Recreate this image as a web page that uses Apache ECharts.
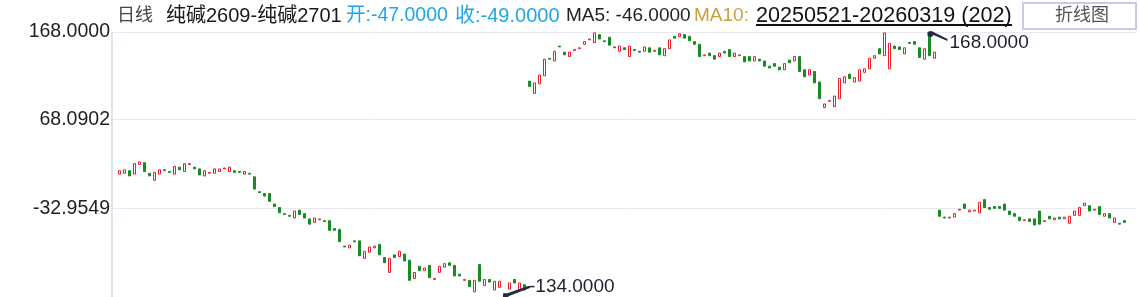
<!DOCTYPE html>
<html>
<head>
<meta charset="utf-8">
<script src="https://cdn.jsdelivr.net/npm/echarts@6/dist/echarts.min.js"></script>
<style>html,body{margin:0;padding:0;background:#fff;}#c{width:1139px;height:297px;}</style>
</head>
<body>
<div id="c"></div>
<script>
// ---- data ----
const opens = [6,7,10,6,17,19,7,-1,6,11,9,6,14,9,17,14,12,4,7,7,9,12,9,10,9,6,7,3,-14,-16,-16,-28,-32,-39,-41,-44,-35,-39,-45,-49,-46,-47,-47,-56,-57,-76,-78,-70,-70,-90,-83,-78,-74,-89,-106,-86,-88,-85,-92,-113,-99,-104,-98,-114,-106,-100,-95,-98,-108,-115,-115,-128,-97,-121,-114,-126,-123,-134,-125,-114,-126,-120,
112,98,109,118,138,135,152,145,140,147,149,154,159,156,165,158,162,151,146,150,140,148,146,146,150,146,150,141,149,163,163,165,163,157,154,141,144,141,140,146,148,140,141,140,140,135,137,135,129,132,128,125,136,135,140,125,119,123,111,82,89,83,92,110,120,111,112,122,126,138,149,141,126,152,151,143,156,157,150,137,168,138,
-35,-43,-44,-43,-35,-28,-37,-36,-38,-23,-32,-31,-31,-28,-36,-39,-43,-47,-45,-45,-36,-48,-42,-46,-43,-45,-50,-41,-41,-30,-30,-35,-31,-42,-39,-49,-50,-47];
const closes = [10,11,4,18,20,9,4,8,11,10,8,15,11,18,18,12,5,10,8,12,12,13,14,8,8,9,6,-11,-15,-19,-25,-31,-38,-40,-42,-36,-40,-44,-51,-44,-45,-48,-58,-58,-71,-77,-75,-71,-87,-82,-77,-76,-86,-95,-90,-89,-82,-93,-115,-106,-104,-101,-112,-113,-99,-96,-98,-110,-110,-114,-122,-115,-116,-114,-117,-116,-116,-130,-118,-118,-118,-126,
106,110,119,137,137,146,151,142,145,148,150,157,160,167,160,157,153,150,152,148,152,147,145,151,145,147,142,149,159,161,166,161,158,154,140,142,141,137,144,144,140,144,142,134,135,140,135,129,127,129,125,132,133,140,123,117,125,110,92,86,90,95,115,117,115,116,125,126,138,141,143,167,155,149,148,150,155,154,139,149,141,145,
-42,-44,-43,-39,-34,-33,-35,-35,-26,-32,-34,-33,-33,-35,-40,-42,-47,-46,-48,-52,-51,-47,-45,-44,-45,-43,-42,-36,-32,-27,-36,-34,-40,-39,-44,-44,-51,-49];
const categories = opens.map((_, i) => String(i + 1));
const yTickValues = [-32.9549, 68.0902, 168];
const yMin = -134, yMax = 168;
const headerTexts = {
  period: '日线', name: '纯碱2609-纯碱2701', open: '开:-47.0000', close: '收:-49.0000',
  ma5: 'MA5: -46.0000', ma10: 'MA10:', range: '20250521-20260319 (202)', button: '折线图'
};

// ---- chart ----
const FONT = "'Liberation Sans','Noto Sans CJK SC',sans-serif";
const UP = '#e5222b', DOWN = '#178c22';
const kData = opens.map((o, i) => {
  const c = closes[i];
  return [o, c, Math.min(o, c), Math.max(o, c)];
});
const chart = echarts.init(document.getElementById('c'), null, {renderer: 'canvas'});
function txt(x, text, color, size) {
  return {type: 'text', x: x, y: 16, style: {text: text, fill: color, font: size + 'px ' + FONT, verticalAlign: 'middle', align: 'left'}};
}
chart.setOption({
  animation: false,
  backgroundColor: '#fff',
  grid: {left: 112, right: 2, top: 32, bottom: 0, containLabel: false},
  xAxis: {
    type: 'category', data: categories, min: -1, max: categories.length + 1,
    boundaryGap: true, show: false
  },
  yAxis: {
    type: 'value', min: yMin, max: yMax, scale: true,
    axisLine: {show: true, lineStyle: {color: '#e2e2ee', width: 2}},
    axisTick: {show: false, customValues: yTickValues},
    axisLabel: {customValues: yTickValues, formatter: v => v.toFixed(4), color: '#1e1e24', fontSize: 19.5, fontFamily: FONT, margin: 2},
    splitLine: {show: true, lineStyle: {color: '#e8e8f1', width: 1}}
  },
  graphic: [
    txt(117, headerTexts.period, '#444', 18),
    txt(166, headerTexts.name, '#1a1a1a', 20),
    txt(346, headerTexts.open, '#1fa6ea', 19.5),
    txt(455, headerTexts.close, '#1fa6ea', 20),
    txt(566, headerTexts.ma5, '#222', 19),
    txt(694, headerTexts.ma10, '#c9a13a', 19),
    txt(756, headerTexts.range, '#111', 21.6),
    {type: 'line', shape: {x1: 756, y1: 25, x2: 1012, y2: 25}, style: {stroke: '#111', lineWidth: 2}},
    {type: 'rect', shape: {x: 1023, y: 3, width: 113, height: 26}, style: {fill: '#fff', stroke: '#c8cbe2', lineWidth: 2}},
    {type: 'text', x: 1082, y: 16, style: {text: headerTexts.button, fill: '#555', font: '18px ' + FONT, align: 'center', verticalAlign: 'middle'}}
  ],
  series: [{
    type: 'candlestick',
    data: kData,
    barWidth: 3,
    itemStyle: {color: '#fff', color0: DOWN, borderColor: UP, borderColor0: DOWN, borderWidth: 1},
    markPoint: {
      silent: true,
      data: [
        {type: 'max', valueDim: 'highest',
         symbol: 'path://M0,1 L4,0 L6,1 L20,8 L20,10 L6,4 L4,6 L0,5 Z', symbolSize: [20, 10], symbolOffset: [8, 4],
         itemStyle: {color: '#272a40'},
         label: {show: true, position: [22, 12], align: 'left', verticalAlign: 'middle', color: '#1e2030', fontSize: 19, fontFamily: FONT, formatter: p => Number(p.value).toFixed(4)}},
        {type: 'min', valueDim: 'lowest',
         symbol: 'path://M0,8 L5,7 L25,0 L27,0 L27,2 L6,10 L5,11 L0,11 Z', symbolSize: [27, 11], symbolOffset: [12, -5.5],
         itemStyle: {color: '#272a40'},
         label: {show: true, position: [26, 1], align: 'left', verticalAlign: 'middle', color: '#1e2030', fontSize: 19, fontFamily: FONT, formatter: p => Number(p.value).toFixed(4)}}
      ]
    }
  }]
});
</script>
</body>
</html>
